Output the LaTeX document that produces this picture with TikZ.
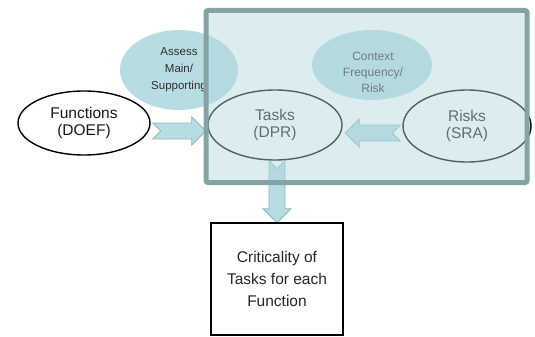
\documentclass[tikz,border=0pt]{standalone}
\usepackage{fontspec}
\setmainfont{Liberation Sans}
\usetikzlibrary{shapes.geometric,calc}
\definecolor{tealfill}{HTML}{B7DDE2}
\definecolor{tealline}{HTML}{8DB7BB}
\definecolor{ovl}{HTML}{B2D7DE}
\definecolor{frameline}{HTML}{86A3A4}
\tikzset{
  ell/.style={ellipse, inner sep=0pt, align=center},
  bigtxt/.style={font=\fontsize{15.5}{16.5}\selectfont},
  smalltxt/.style={font=\fontsize{11.5}{17}\selectfont},
  arrowbody/.style={fill=tealfill, draw=tealline, line width=0.8pt, line join=miter},
  pics/barrow/.style={code={
    \path[arrowbody] (0,-8) -- (#1-14,-8) -- (#1-14,-14) -- (#1,0) -- (#1-14,14)
      -- (#1-14,8) -- (0,8) -- (8,0) -- cycle;
  }}
}
\begin{document}
\begin{tikzpicture}[x=1pt,y=-1pt]
\useasboundingbox (0,0) rectangle (535,337);
% background ellipses
\node[ell, fill=tealfill, minimum width=118, minimum height=80, smalltxt, text=black!82] (assess) at (179,70) {Assess\\Main/\\Supporting};
\node[ell, fill=tealfill, minimum width=120, minimum height=70] (context) at (372,65) {};
\node[font=\fontsize{12}{16}\selectfont, text=black!80, align=center] (contexttxt) at (373,72) {Context\\Frequency/\\Risk};
\node[ell, draw=black, line width=1.4pt, fill=white, minimum width=132, minimum height=64, bigtxt, text=black!90] (fun) at (84,123) {Functions\\(DOEF)};
\node[ell, draw=black, line width=1.4pt, fill=white, minimum width=134, minimum height=70, bigtxt, text=black!90] (tasks) at (275,125) {Tasks\\(DPR)};
\node[ell, draw=black, line width=1.4pt, fill=white, minimum width=128, minimum height=72, bigtxt, text=black!90] (risks) at (467,126) {Risks\\(SRA)};
% block arrows
\pic at ($(fun.east)+(2,8)$) {barrow=53};
\pic[rotate=180] at ($(risks.west)+(-2,7)$) {barrow=55};
\pic[rotate=-90] at ($(tasks.south)+(2,0)$) {barrow=62};
% translucent frame
\node[draw=frameline, line width=5pt, fill=ovl, fill opacity=0.45, rounded corners=2pt,
  minimum width=321, minimum height=172, inner sep=0pt] (frame) at (366.5,96.5) {};
% result box
\node[draw=black, line width=1.6pt, fill=white, minimum width=132, minimum height=112,
  align=center, font=\fontsize{15.5}{22}\selectfont, text=black!85] (crit) at (277,279)
  {Criticality of\\Tasks for each\\Function};
\end{tikzpicture}
\end{document}
